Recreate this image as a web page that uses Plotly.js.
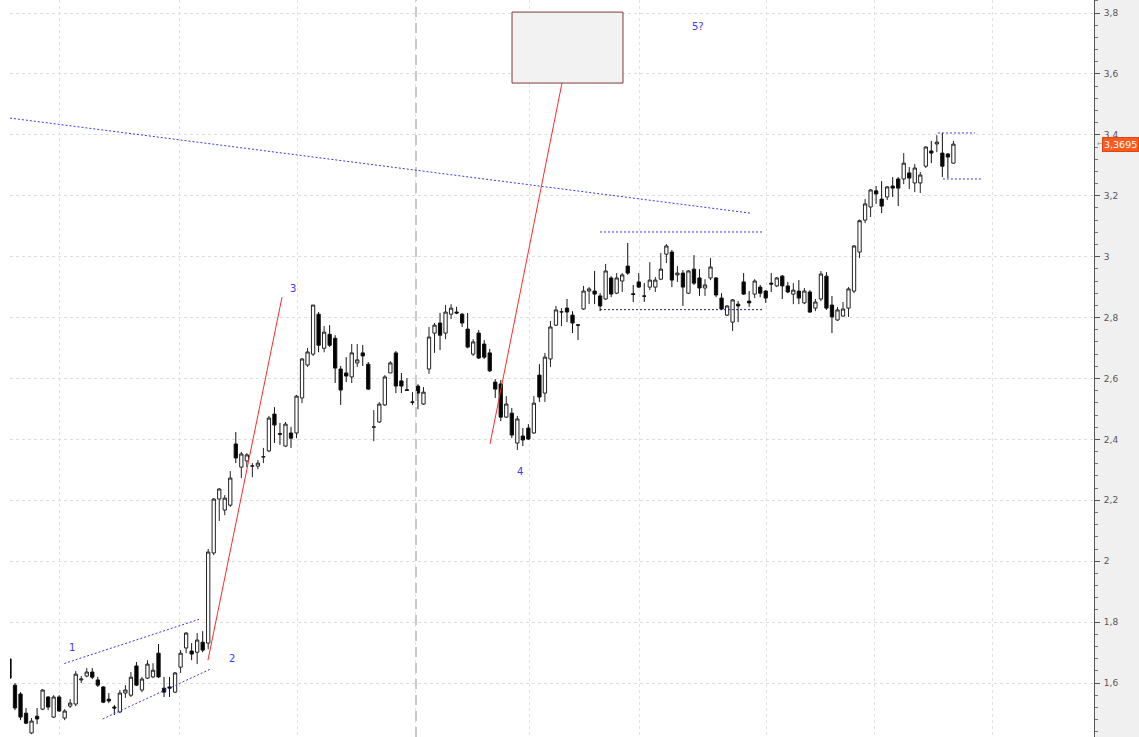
<!DOCTYPE html>
<html><head><meta charset="utf-8">
<script src="https://cdn.plot.ly/plotly-3.0.1.min.js"></script>
<style>html,body{margin:0;padding:0;background:#fff}#chart{width:1139px;height:737px}</style>
</head><body><div id="chart"></div>
<script>
// Daily OHLC values, oldest first (first candle is partly cut off at the left edge)
const openP = [1.679,1.593,1.564,1.501,1.436,1.491,1.514,1.554,1.488,1.554,1.485,1.524,1.531,1.610,1.623,1.636,1.610,1.587,1.547,1.521,1.505,1.567,1.560,1.656,1.577,1.616,1.620,1.698,1.583,1.587,1.570,1.652,1.715,1.705,1.701,1.734,1.731,2.027,2.204,2.168,2.184,2.385,2.309,2.329,2.312,2.312,2.342,2.362,2.483,2.419,2.378,2.421,2.421,2.536,2.644,2.680,2.811,2.699,2.745,2.732,2.631,2.618,2.605,2.651,2.684,2.647,2.440,2.457,2.513,2.618,2.684,2.592,2.563,2.523,2.575,2.516,2.631,2.749,2.782,2.749,2.811,2.818,2.811,2.762,2.680,2.749,2.713,2.684,2.588,2.582,2.473,2.486,2.388,2.411,2.437,2.421,2.611,2.552,2.664,2.775,2.818,2.831,2.808,2.776,2.828,2.887,2.887,2.871,2.861,2.930,2.880,2.920,2.969,2.878,2.917,2.871,2.900,2.900,2.926,3.008,3.015,2.940,2.946,2.880,2.959,2.930,2.897,2.930,2.930,2.864,2.808,2.785,2.844,2.917,2.854,2.877,2.900,2.887,2.913,2.904,2.936,2.904,2.877,2.887,2.848,2.884,2.831,2.861,2.936,2.841,2.792,2.805,2.831,2.887,3.015,3.120,3.163,3.216,3.189,3.196,3.232,3.255,3.255,3.275,3.242,3.242,3.297,3.347,3.370,3.340,3.337,3.307];
const highP = [1.685,1.600,1.570,1.518,1.485,1.518,1.580,1.557,1.560,1.560,1.514,1.547,1.639,1.623,1.649,1.649,1.620,1.590,1.567,1.528,1.577,1.593,1.636,1.669,1.620,1.675,1.665,1.728,1.620,1.620,1.636,1.708,1.767,1.731,1.764,1.770,2.040,2.207,2.240,2.217,2.296,2.424,2.359,2.355,2.322,2.332,2.372,2.477,2.506,2.454,2.457,2.441,2.546,2.667,2.700,2.841,2.818,2.772,2.775,2.742,2.641,2.670,2.713,2.713,2.710,2.654,2.496,2.522,2.611,2.657,2.690,2.618,2.601,2.555,2.581,2.572,2.769,2.782,2.815,2.841,2.844,2.835,2.815,2.815,2.729,2.759,2.726,2.697,2.598,2.595,2.542,2.503,2.477,2.437,2.450,2.542,2.647,2.684,2.789,2.838,2.831,2.861,2.821,2.776,2.904,2.900,2.953,2.880,2.976,2.936,2.946,2.946,3.045,2.907,2.946,2.913,2.982,2.933,3.012,3.041,3.022,2.969,2.956,2.956,3.005,2.959,2.926,2.995,2.933,2.880,2.841,2.861,2.854,2.946,2.887,2.926,2.907,2.890,2.946,2.933,2.940,2.917,2.913,2.923,2.897,2.890,2.861,2.953,2.949,2.871,2.835,2.851,2.900,3.038,3.122,3.189,3.222,3.232,3.248,3.232,3.261,3.261,3.340,3.294,3.304,3.278,3.362,3.380,3.399,3.406,3.340,3.380];
const lowP = [1.610,1.511,1.478,1.465,1.432,1.465,1.511,1.511,1.485,1.505,1.478,1.518,1.524,1.600,1.619,1.613,1.587,1.534,1.534,1.495,1.501,1.551,1.554,1.590,1.570,1.613,1.616,1.616,1.554,1.554,1.567,1.633,1.698,1.675,1.662,1.701,1.711,2.020,2.132,2.151,2.178,2.322,2.273,2.309,2.276,2.302,2.322,2.358,2.388,2.382,2.375,2.372,2.404,2.519,2.638,2.674,2.686,2.686,2.703,2.585,2.513,2.588,2.585,2.638,2.641,2.562,2.394,2.454,2.510,2.618,2.552,2.552,2.560,2.513,2.499,2.513,2.615,2.684,2.693,2.729,2.795,2.811,2.769,2.699,2.674,2.664,2.664,2.621,2.536,2.460,2.470,2.404,2.365,2.378,2.398,2.418,2.523,2.523,2.638,2.772,2.772,2.785,2.749,2.726,2.825,2.844,2.844,2.821,2.858,2.867,2.877,2.884,2.940,2.851,2.897,2.851,2.890,2.884,2.923,2.979,2.900,2.917,2.838,2.877,2.907,2.871,2.871,2.923,2.867,2.825,2.805,2.756,2.785,2.874,2.835,2.864,2.867,2.848,2.884,2.900,2.861,2.880,2.844,2.844,2.844,2.815,2.821,2.854,2.825,2.749,2.789,2.802,2.802,2.880,2.995,3.110,3.130,3.173,3.143,3.186,3.196,3.166,3.238,3.222,3.212,3.209,3.291,3.307,3.343,3.261,3.258,3.305];
const closeP = [1.616,1.518,1.488,1.468,1.475,1.482,1.577,1.521,1.554,1.508,1.508,1.534,1.629,1.613,1.636,1.619,1.593,1.537,1.541,1.518,1.567,1.577,1.619,1.593,1.613,1.662,1.642,1.620,1.570,1.583,1.633,1.698,1.764,1.695,1.741,1.708,2.030,2.204,2.237,2.207,2.273,2.339,2.352,2.349,2.313,2.322,2.343,2.470,2.447,2.417,2.450,2.404,2.542,2.664,2.687,2.841,2.709,2.752,2.709,2.634,2.562,2.608,2.684,2.661,2.674,2.565,2.441,2.516,2.605,2.651,2.575,2.575,2.561,2.522,2.552,2.555,2.736,2.775,2.742,2.818,2.831,2.815,2.782,2.703,2.720,2.667,2.670,2.625,2.565,2.473,2.516,2.414,2.467,2.398,2.401,2.519,2.539,2.670,2.769,2.825,2.819,2.818,2.782,2.775,2.887,2.894,2.877,2.838,2.953,2.877,2.930,2.940,2.946,2.876,2.900,2.870,2.923,2.923,2.959,3.035,2.923,2.946,2.900,2.953,2.913,2.897,2.907,2.966,2.874,2.828,2.838,2.858,2.838,2.877,2.848,2.920,2.880,2.864,2.910,2.930,2.904,2.884,2.890,2.864,2.887,2.818,2.851,2.943,2.831,2.802,2.825,2.828,2.894,3.035,3.118,3.173,3.219,3.206,3.166,3.229,3.225,3.225,3.307,3.258,3.291,3.268,3.360,3.340,3.376,3.297,3.327,3.3695];
const lastPrice = 3.3695;
const yTicks = [1.6,1.8,2,2.2,2.4,2.6,2.8,3,3.2,3.4,3.6,3.8];
const monthBreaks = [8.06,29.89,51.18,72.64,93.21,113.13,136.18,155.71,177.17];
const waveLabels = ['1','2','3','4','5?'];

const xIdx = openP.map((_, k) => k - 1);

const trace = {
  type: 'candlestick', x: xIdx, open: openP, high: highP, low: lowP, close: closeP,
  increasing: {line: {color: '#222', width: 1}, fillcolor: '#ffffff'},
  decreasing: {line: {color: '#111', width: 1}, fillcolor: '#000000'},
  whiskerwidth: 0, hoverinfo: 'none', showlegend: false
};

const blue = '#3a3ae6';
function seg(x0,y0,x1,y1,color,dash){return {type:'line',xref:'x',yref:'y',x0,y0,x1,y1,line:{color,width:1,dash}};}
const shapes = [
  {type:'rect',xref:'paper',yref:'paper',x0:1,x1:1+45/1084,y0:0,y1:1,fillcolor:'#f0f0f0',line:{width:0},layer:'below'},
  {type:'rect',xref:'paper',yref:'paper',x0:-10/1084,x1:0,y0:0,y1:1,fillcolor:'#ffffff',line:{width:0},layer:'below'},
  seg(72.64,1.4227,72.64,3.8427,'#c8c8c8','10px,6px'),
  seg(-0.91,3.455,133.15,3.143,blue,'2px,2px'),
  seg(8.93,1.664,33.33,1.809,blue,'2px,2px'),
  seg(15.89,1.482,35.45,1.646,blue,'2px,2px'),
  seg(105.98,3.081,135.5,3.081,blue,'2px,2px'),
  seg(105.98,2.826,135.5,2.826,'#22227a','2px,2px'),
  seg(167.2,3.406,173.9,3.406,blue,'2px,2px'),
  seg(168.1,3.255,175.2,3.255,blue,'2px,2px'),
  seg(34.96,1.675,48.37,2.867,'#ff2a2a','solid'),
  seg(86.05,2.385,99.09,3.570,'#ff2a2a','solid'),
  {type:'rect',xref:'x',yref:'y',x0:90.04,x1:110.14,y0:3.570,y1:3.803,fillcolor:'#f2f2f2',line:{color:'#7b3b3b',width:1}}
];
shapes[2].line.width = 2;

const labPos = [[10.3,1.718],[39.3,1.679],[50.36,2.897],[91.5,2.296],[123.7,3.757]];
const annotations = waveLabels.map((t,k)=>({x:labPos[k][0],y:labPos[k][1],xref:'x',yref:'y',text:t,showarrow:false,
  font:{family:'DejaVu Sans, Arial',size:10,color:blue}}));
annotations.push({xref:'paper',yref:'y',x:1+8/1084,y:lastPrice,xanchor:'left',yanchor:'middle',text:'3,3695',showarrow:false,
  bgcolor:'#ff5a1e',bordercolor:'#d84a14',borderwidth:1,borderpad:1,font:{family:'DejaVu Sans, Arial',size:9.5,color:'#ffffff'}});
annotations.push({xref:'paper',yref:'y',x:1+1/1084,y:lastPrice,xanchor:'left',yanchor:'middle',text:'←',showarrow:false,
  font:{family:'DejaVu Sans',size:7,color:'#888'}});

const layout = {
  width:1139, height:737, margin:{l:10,r:45,t:0,b:0,pad:0},
  paper_bgcolor:'#ffffff', plot_bgcolor:'#ffffff', separators:',.',
  showlegend:false, dragmode:false, boxgap:0.15,
  xaxis:{range:[-0.906,195.47], rangeslider:{visible:false}, showticklabels:false, ticks:'',
    tickmode:'array', tickvals:monthBreaks, showgrid:true, gridcolor:'#e2e2e2', griddash:'3px,3px', gridwidth:1,
    zeroline:false, showline:false, fixedrange:true},
  yaxis:{side:'right', range:[1.4227,3.8427], tickmode:'array', tickvals:yTicks,
    showgrid:true, gridcolor:'#dedede', griddash:'3px,3px', gridwidth:1, zeroline:false,
    showline:true, linecolor:'#555', linewidth:1, ticks:'outside', ticklen:5, tickcolor:'#555',
    ticklabelstandoff:2,
    minor:{dtick:0.04, tick0:0, ticks:'outside', ticklen:3, tickcolor:'#777', showgrid:false},
    tickfont:{family:'DejaVu Sans, Arial', size:9, color:'#555'}, fixedrange:true},
  shapes, annotations
};
Plotly.newPlot('chart',[trace],layout,{staticPlot:true,displayModeBar:false});
</script></body></html>
